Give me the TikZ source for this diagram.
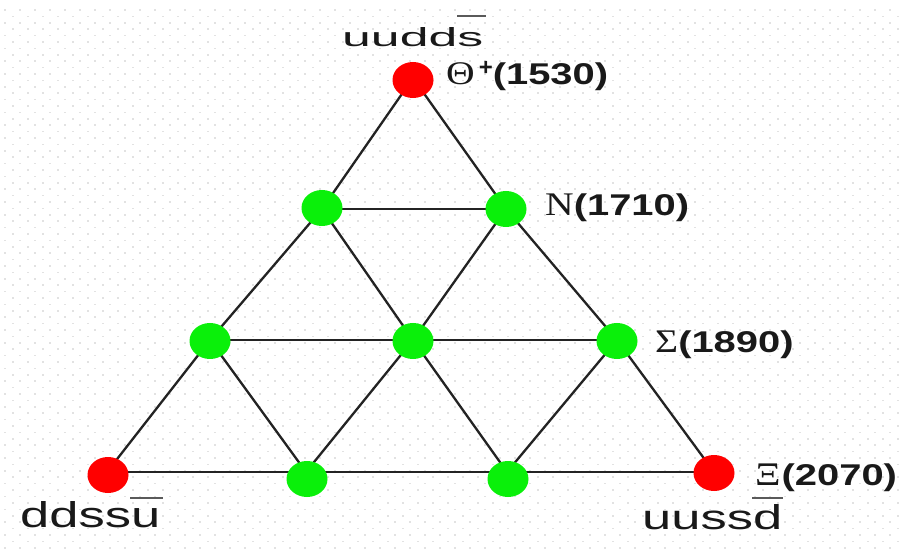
\documentclass[tikz,border=0pt]{standalone}
\usepackage{fontspec}
\usepackage{graphicx}
\setmainfont{Liberation Sans}
\newfontfamily\grk{Liberation Serif}
\usetikzlibrary{shapes.geometric}
\definecolor{qred}{RGB}{255,0,0}
\definecolor{qgreen}{RGB}{10,240,10}
\definecolor{edgec}{RGB}{35,35,35}
\definecolor{dotc}{RGB}{226,226,226}
\definecolor{barc}{RGB}{90,90,90}
\newcommand{\gl}[1]{\scalebox{1.2}[1]{\fontsize{33}{33}\selectfont\grk #1}}
\newcommand{\mass}[1]{\scalebox{1.33}[1]{\bfseries (#1)}}
\begin{document}
\begin{tikzpicture}[x=1pt,y=-1pt,
  dot/.style={ellipse,inner sep=0pt,minimum width=41pt,minimum height=36pt,draw=none},
  reddot/.style={dot,fill=qred},
  greendot/.style={dot,fill=qgreen},
  edge/.style={draw=edgec,line width=2.3pt},
  bar/.style={draw=barc,line width=2pt},
  quark/.style={inner sep=0pt,anchor=south west,text=black!90},
  mlabel/.style={inner sep=0pt,anchor=base west,font=\fontsize{30}{30}\selectfont,text=black!90}]
\useasboundingbox (0,0) rectangle (903,553);
\fill[white] (0,0) rectangle (903,553);
% faint dotted background
\foreach \r in {0,...,85}{
  \pgfmathsetmacro\yy{9.3+6.4*\r}
  \pgfmathsetmacro\off{mod(\r,2)*7.5}
  \foreach \c in {0,...,60}{
    \fill[dotc] (4+\off+15*\c,\yy) rectangle +(2,1.6);
  }
}
% lattice points
\coordinate (pA) at (413,78);
\coordinate (pB1) at (322,209);
\coordinate (pB2) at (506,209);
\coordinate (pC1) at (210,340);
\coordinate (pC2) at (413,340);
\coordinate (pC3) at (617,340);
\coordinate (pD1) at (107,472);
\coordinate (pD2) at (306,472);
\coordinate (pD3) at (507,472);
\coordinate (pD4) at (714,472);
% edges
\draw[edge] (pA) -- (pB1) -- (pC1) -- (pD1);
\draw[edge] (pB2) -- (pC2) -- (pD2);
\draw[edge] (pC3) -- (pD3);
\draw[edge] (pA) -- (pB2) -- (pC3) -- (pD4);
\draw[edge] (pB1) -- (pC2) -- (pD3);
\draw[edge] (pC1) -- (pD2);
\draw[edge] (pB1) -- (pB2);
\draw[edge] (pC1) -- (pC2) -- (pC3);
\draw[edge] (pD1) -- (pD2) -- (pD3) -- (pD4);
% nodes
\node[reddot] (nA) at (413,80) {};
\node[greendot] (nB1) at (322,208) {};
\node[greendot] (nB2) at (506,209) {};
\node[greendot] (nC1) at (210,341) {};
\node[greendot] (nC2) at (413,341) {};
\node[greendot] (nC3) at (617,341) {};
\node[reddot] (nD1) at (108,475) {};
\node[greendot] (nD2) at (307,479) {};
\node[greendot] (nD3) at (508,479) {};
\node[reddot] (nD4) at (714,473) {};
% quark content labels
\node[quark] (qA) at (342,47) {\resizebox{141pt}{19pt}{uudds}};
\draw[bar] (457,16) -- (486,16);
\node[quark] (qD1) at (20,528) {\resizebox{140pt}{26pt}{ddssu}};
\draw[bar] (130,498) -- (163,498);
\node[quark] (qD4) at (642,530) {\resizebox{140pt}{25pt}{uussd}};
\draw[bar] (752,498) -- (783,498);
% mass labels
\node[mlabel] (mA) at (446,85) {\gl{Θ}\hspace{4pt}\raisebox{9pt}{\fontsize{24}{24}\selectfont\bfseries +}\hspace{0pt}\mass{1530}};
\node[mlabel] (mB) at (545,216) {\gl{Ν}\mass{1710}};
\node[mlabel] (mC) at (655,353) {\gl{Σ}\mass{1890}};
\node[mlabel] (mD) at (755,485) {\gl{Ξ}\hspace{1pt}\mass{2070}};
\end{tikzpicture}
\end{document}
